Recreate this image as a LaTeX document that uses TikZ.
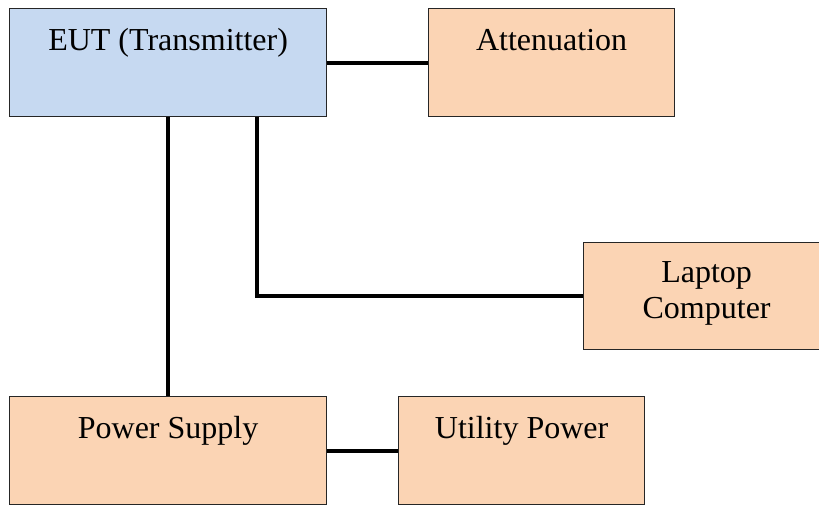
\documentclass[tikz,border=0pt]{standalone}
\usepackage{fontspec}
\setmainfont{Liberation Serif}
\definecolor{eutblue}{RGB}{198,217,241}
\definecolor{peach}{RGB}{251,212,180}
\tikzset{
  unit/.style={draw=black!85, line width=1.2pt, fill=peach, minimum width=246pt,
    minimum height=108pt, inner sep=0pt, anchor=north west,
    font=\fontsize{32}{36}\selectfont},
  oneline/.style={text height=24pt, text depth=49pt},
  wire/.style={line width=4pt}
}
\begin{document}
\begin{tikzpicture}[x=1pt,y=-1pt]
\useasboundingbox (0,0) rectangle (819,504);
% boxes
\node[unit, oneline, fill=eutblue, minimum width=317pt] (eut) at (9,8) {EUT (Transmitter)};
\node[unit, oneline] (atten) at (428,8) {Attenuation};
\node[unit, align=center, minimum height=107pt] (laptop) at (583,242) {Laptop\\Computer\rule[-13pt]{0pt}{0pt}};
\node[unit, oneline, minimum width=317pt] (psu) at (9,396) {Power Supply};
\node[unit, oneline] (mains) at (398,396) {Utility Power};
% cables
\coordinate (tap) at ([xshift=88.5pt]eut.south);
\draw[wire] (eut.east) -- (atten.west);
\draw[wire] (eut.south) -- (psu.north);
\draw[wire] (tap) |- (laptop.west);
\draw[wire] (psu.east) -- (mains.west);
\end{tikzpicture}
\end{document}
